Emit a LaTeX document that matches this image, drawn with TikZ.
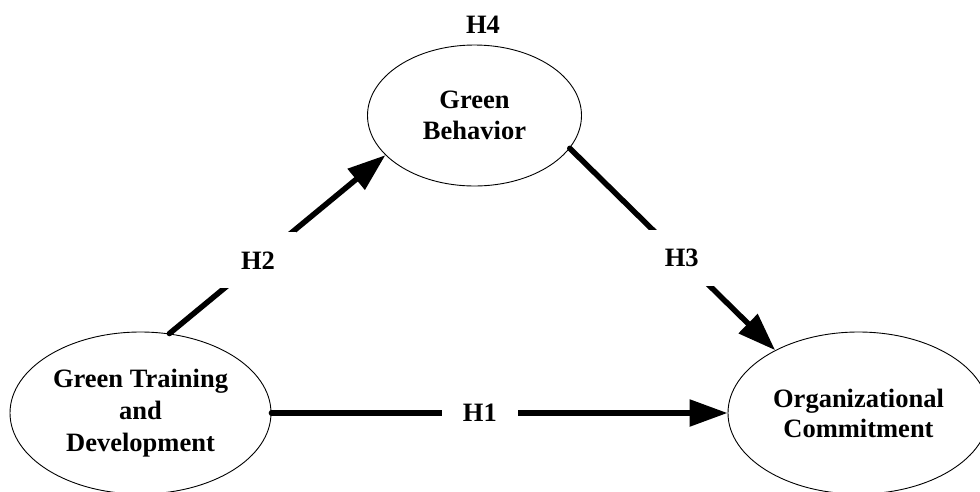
\documentclass[tikz,border=0pt]{standalone}
\usepackage{fontspec}
\setmainfont{Liberation Serif}
\usetikzlibrary{shapes.geometric,arrows.meta}
\begin{document}
\begin{tikzpicture}[x=1pt,y=-1pt,
  txt/.style={font=\fontsize{26.5}{31}\selectfont\bfseries, align=center},
  construct/.style={ellipse, draw, line width=0.9pt, inner sep=0pt, txt},
  conn/.style={line width=5.5pt, line cap=round, -{Triangle[length=38pt,width=26pt]}},
  lab/.style={fill=white, minimum width=76pt, minimum height=56pt, inner sep=0pt, txt}]
\useasboundingbox (0,0) rectangle (980,491);
\node[construct, minimum width=261pt, minimum height=162pt, font=\fontsize{26.5}{32}\selectfont\bfseries] (gtd) at (140.5,413) {Green Training\\and\\Development};
\node[construct, minimum width=214pt, minimum height=141pt] (gb) at (474.5,115.5) {Green\\Behavior};
\node[construct, minimum width=261pt, minimum height=162pt, font=\fontsize{26.5}{30}\selectfont\bfseries] (oc) at (858.5,413) {Organizational\\Commitment};
\node[txt] (h4) at (483,25) {H4};
\draw[conn] (gtd.0) -- node[lab, pos=0.457] (h1) {H1} (oc.180);
\draw[conn] (gtd.70.8) -- node[lab, pos=0.41] (h2) {H2} (gb.204.9);
\draw[conn] (gb.-19.6) -- node[lab, pos=0.545] (h3) {H3} (oc.143);
\end{tikzpicture}
\end{document}
